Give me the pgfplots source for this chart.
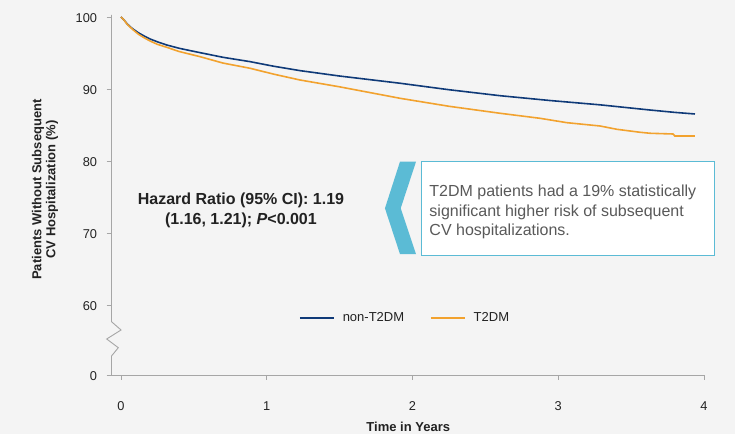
\documentclass[border=0pt]{standalone}
\usepackage{fontspec}
\setmainfont{Liberation Sans}
\usepackage{pgfplots}
\pgfplotsset{compat=1.18}
\usetikzlibrary{backgrounds}
\definecolor{bgc}{HTML}{F4F4F4}
\definecolor{navy}{HTML}{0F3A78}
\definecolor{orng}{HTML}{F2A22E}
\definecolor{axg}{HTML}{A6A6A6}
\definecolor{cyanb}{HTML}{5BBBD5}
\definecolor{txtg}{HTML}{595959}
\definecolor{tickc}{HTML}{222222}
\begin{document}
\begin{tikzpicture}
\begin{axis}[
 x=145.75bp, y=7.2bp,
 xmin=-0.065, xmax=4.007, ymin=50.28, ymax=100.28,
 axis x line*=bottom, axis y line*=left,
 y axis line style={draw=none},
 x axis line style={axg, line width=0.9bp},
 xtick={0,1,2,3,4}, xticklabels={0,1,2,3,4},
 ytick={50.28,60,70,80,90,100}, yticklabels={0,60,70,80,90,100},
 tick align=outside, major tick length=5bp,
 tick style={axg, line width=0.9bp},
 ticklabel style={font=\fontsize{12.8bp}{15bp}\selectfont, text=tickc},
 xticklabel style={yshift=-18bp},
 yticklabel style={xshift=-6bp, yshift=-1.5bp},
 xlabel={Time in Years},
 xlabel style={at={(axis description cs:0.5,-0.1575)}, anchor=base, font=\bfseries\fontsize{13bp}{15bp}\selectfont, text=tickc},
 ylabel={Patients Without Subsequent\\CV Hospitalization (\%)},
 ylabel style={at={(axis description cs:-0.112,0.515)}, anchor=center, align=center, font=\bfseries\fontsize{13bp}{14bp}\selectfont, text=tickc},
 legend style={at={(axis cs:1.221,58.2)}, anchor=west, draw=none, fill=none, legend columns=2, font=\fontsize{13bp}{15bp}\selectfont, /tikz/every odd column/.append style={column sep=6bp}, /tikz/every even column/.append style={column sep=24bp}, inner sep=0pt, text=tickc},
 legend image code/.code={\draw[#1] (0bp,0bp) -- (34bp,0bp);},
 clip=false,
]
\addplot[navy, line width=1.6bp] coordinates {
(0,100) (0.02,99.6) (0.04,99.1) (0.06,98.7) (0.084,98.3) (0.12,97.8) (0.16,97.35)
(0.199,96.95) (0.25,96.55) (0.314,96.11) (0.4,95.65) (0.47,95.35) (0.542,95.05)
(0.7,94.4) (0.885,93.8) (1.05,93.15) (1.228,92.55) (1.5,91.8) (1.914,90.8)
(2.25,89.9) (2.6,89.07) (2.943,88.4) (3.287,87.8) (3.63,87.08) (3.8,86.75) (3.938,86.53)
};
\addlegendentry{non-T2DM}
\addplot[orng, line width=1.6bp] coordinates {
(0,100) (0.02,99.6) (0.04,99.05) (0.06,98.65) (0.084,98.2) (0.12,97.6) (0.16,97.1)
(0.199,96.67) (0.25,96.2) (0.314,95.79) (0.4,95.2) (0.47,94.85) (0.542,94.49)
(0.7,93.6) (0.885,92.88) (1.05,92.05) (1.228,91.25) (1.5,90.3) (1.914,88.71)
(2.25,87.6) (2.6,86.63) (2.875,85.93) (3.06,85.32) (3.287,84.86) (3.403,84.4) (3.561,83.99)
(3.63,83.85) (3.787,83.75) (3.80,83.47) (3.938,83.47)
};
\addlegendentry{T2DM}
% y axis with break
\draw[axg, line width=0.9bp] (axis cs:-0.065,100.28) -- (axis cs:-0.065,57.68)
 -- ([xshift=9.5bp]axis cs:-0.065,56.53) -- ([xshift=-4.8bp]axis cs:-0.065,55.28)
 -- ([xshift=6.8bp]axis cs:-0.065,54.07) -- (axis cs:-0.065,52.92) -- (axis cs:-0.065,50.28);
% hazard text
\node[align=center, font=\bfseries\fontsize{16bp}{20bp}\selectfont, text=tickc, inner sep=0pt] at (axis cs:0.823,73.08) {Hazard Ratio (95\% CI): 1.19\\(1.16, 1.21); \textit{P}<0.001};
% callout
\fill[cyanb] (axis cs:1.811,73.43) -- (axis cs:1.914,79.90) -- (axis cs:2.024,79.90) -- (axis cs:1.919,73.43) -- (axis cs:2.024,67.08) -- (axis cs:1.914,67.08) -- cycle;
\draw[cyanb, fill=white, line width=0.9bp] (axis cs:2.063,79.9) rectangle (axis cs:4.07,66.94);
\node[anchor=north west, align=left, inner sep=0pt, font=\fontsize{16bp}{19.5bp}\selectfont, text=txtg] at (axis cs:2.115,76.67) {T2DM patients had a 19\% statistically\\significant higher risk of subsequent\\CV hospitalizations.};
\coordinate (R) at (axis cs:0,60);
\end{axis}
\begin{scope}[on background layer]
\fill[bgc] ([shift={(-121bp,305bp)}]R) rectangle ([shift={(614bp,-129bp)}]R);
\end{scope}
\end{tikzpicture}
\end{document}
